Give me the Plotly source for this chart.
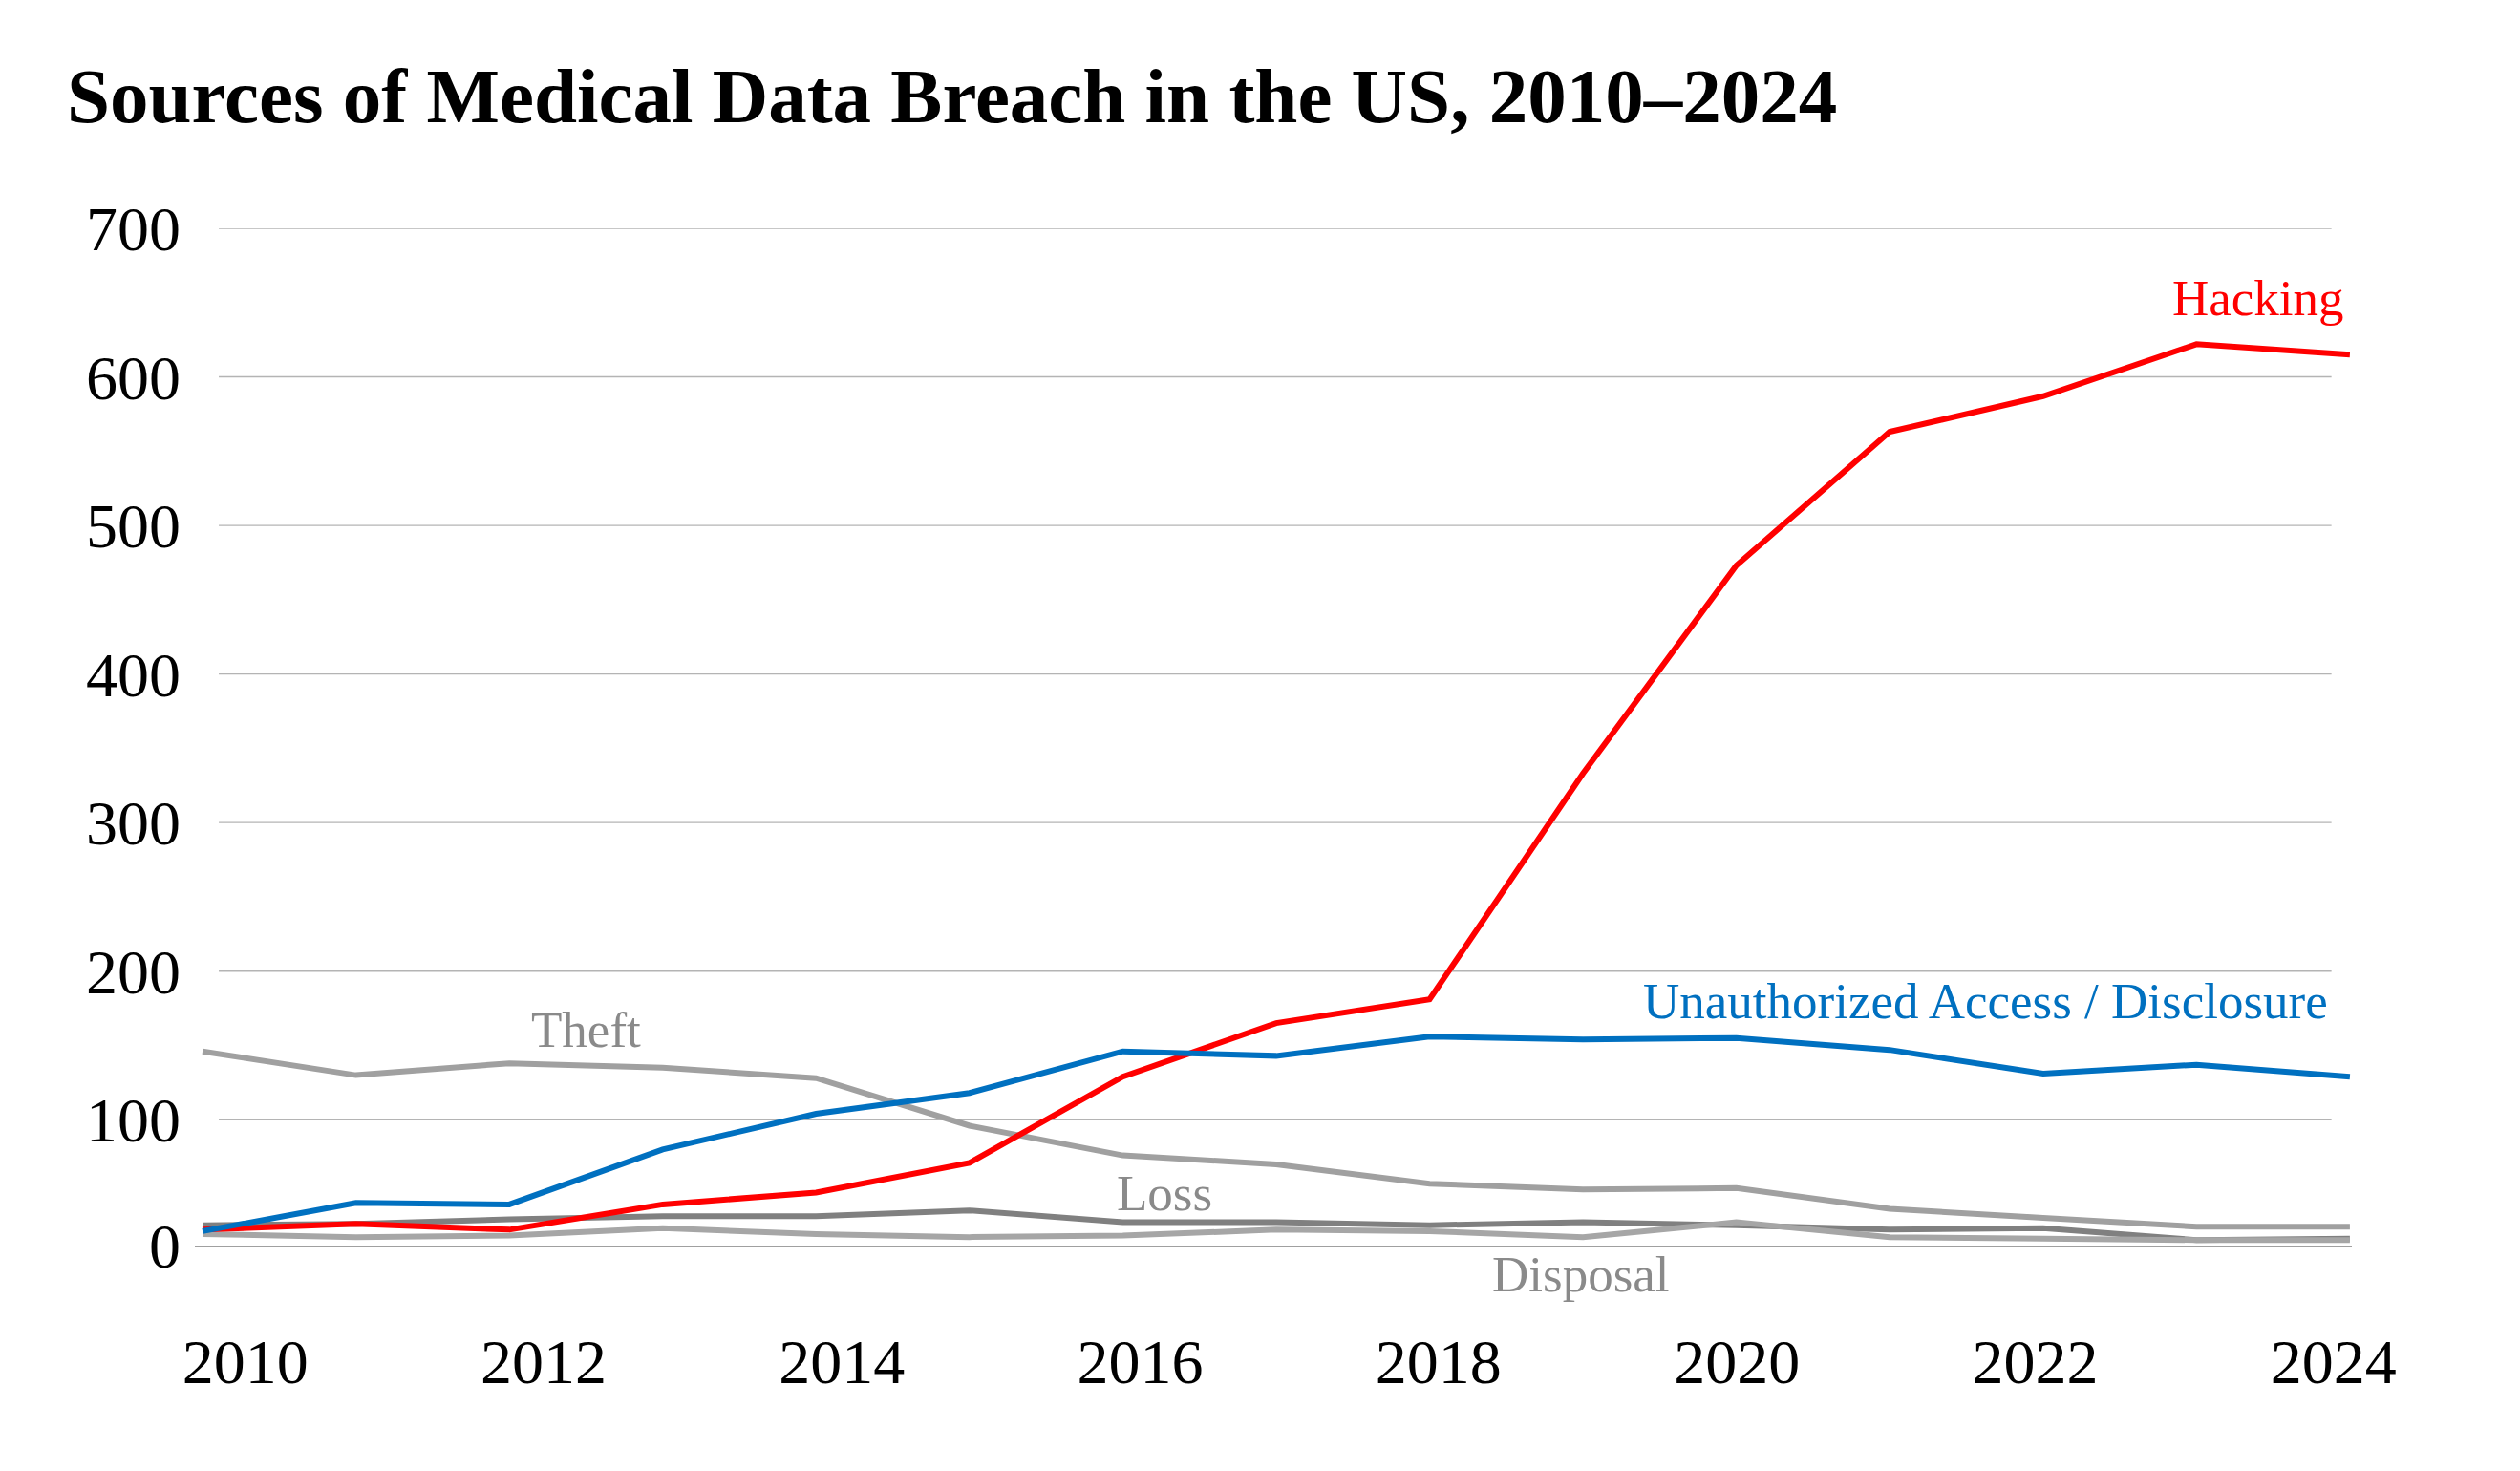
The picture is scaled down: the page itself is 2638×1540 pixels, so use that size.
import plotly.graph_objects as go

# yearly counts of breaches per source
years = list(range(2010, 2025))
hacking = [26, 30, 26, 43, 51, 71, 129, 165, 181, 333, 473, 563, 587, 622, 615]
unauthorized = [25, 44, 43, 80, 104, 118, 146, 143, 156, 154, 155, 147, 131, 137, 129]
theft = [146, 130, 138, 135, 128, 96, 76, 70, 57, 53, 54, 40, 34, 28, 28]
loss = [29, 30, 33, 35, 35, 39, 31, 31, 29, 31, 29, 26, 27, 19, 20]
disposal = [23, 21, 22, 27, 23, 21, 22, 26, 25, 21, 31, 21, 20, 19, 19]

x_labels = ["2010", "2012", "2014", "2016", "2018", "2020", "2022", "2024"]
y_labels = ["0", "100", "200", "300", "400", "500", "600", "700"]

FONT = "Liberation Serif"
RED = "#FF0000"
BLUE = "#0070C0"
LABEL_GREY = "#8A8A8A"

fig = go.Figure()

# grey ones first so the coloured lines sit on top
series = [
    ("Loss", loss, "#808080"),
    ("Disposal", disposal, "#A6A6A6"),
    ("Theft", theft, "#A0A0A0"),
    ("Hacking", hacking, RED),
    ("Unauthorized Access / Disclosure", unauthorized, BLUE),
]
for name, vals, col in series:
    fig.add_trace(go.Scatter(
        x=years, y=vals, name=name, mode="lines",
        line=dict(color=col, width=6),
        showlegend=False, hoverinfo="skip"))

# the original puts its "0" on the base line, which sits a little above the true zero
y_floor = 15.3
y_top = 700
y_ticks = [y_floor] + [100 * i for i in range(1, 8)]

# year labels are spread a bit tighter than the data points
x_ticks = [2010.278 + 1.945 * i for i in range(len(x_labels))]

# gridlines stop short of the ends, like the original
for v in y_ticks[1:]:
    fig.add_shape(type="line", xref="x", yref="y",
                  x0=2010.106, x1=2023.88, y0=v, y1=v,
                  line=dict(color="#B4B4B4", width=1.4), layer="below")

labels = [
    ("Hacking", 2023.975, 653, "right", RED),
    ("Unauthorized Access / Disclosure", 2023.87, 180, "right", BLUE),
    ("Theft", 2012.5, 160.6, "center", LABEL_GREY),
    ("Loss", 2016.27, 50.6, "center", LABEL_GREY),
    ("Disposal", 2018.99, -4, "center", LABEL_GREY),
]
for txt, lx, ly, anchor, col in labels:
    # anything below the base line has to go on paper coords or plotly hides it
    if ly < y_floor:
        yref, ly = "paper", (ly - y_floor) / (y_top - y_floor)
    else:
        yref = "y"
    fig.add_annotation(x=lx, y=ly, xref="x", yref=yref, text=txt, showarrow=False,
                       xanchor=anchor, yanchor="middle",
                       font=dict(family=FONT, size=53, color=col))

# page body adds an 8px margin, so the figure is a touch smaller than the window
fig.update_layout(
    width=2630, height=1532,
    autosize=False,
    margin=dict(l=196, r=176, t=231, b=236, autoexpand=False),
    paper_bgcolor="white",
    plot_bgcolor="white",
    font=dict(family=FONT, color="black"),
    title=dict(
        text="<b>Sources of Medical Data Breach in the US, 2010–2024</b>",
        font=dict(family=FONT, size=81, color="black"),
        xref="container", x=62 / 2630, xanchor="left",
        yref="container", y=1 - 92 / 1532, yanchor="middle"),
)

fig.update_xaxes(
    range=[2009.95, 2024.013],
    tickvals=x_ticks, ticktext=x_labels,
    tickfont=dict(family=FONT, size=66, color="black"),
    ticks="", showgrid=False, zeroline=False,
    showline=True, linecolor="#A0A0A0", linewidth=1.5,
    ticklabelstandoff=63)

fig.update_yaxes(
    range=[y_floor, y_top],
    tickvals=y_ticks, ticktext=y_labels,
    tickfont=dict(family=FONT, size=66, color="black"),
    ticks="", showgrid=False, zeroline=False, showline=False,
    ticklabelstandoff=14)

fig.write_html("out.html")
